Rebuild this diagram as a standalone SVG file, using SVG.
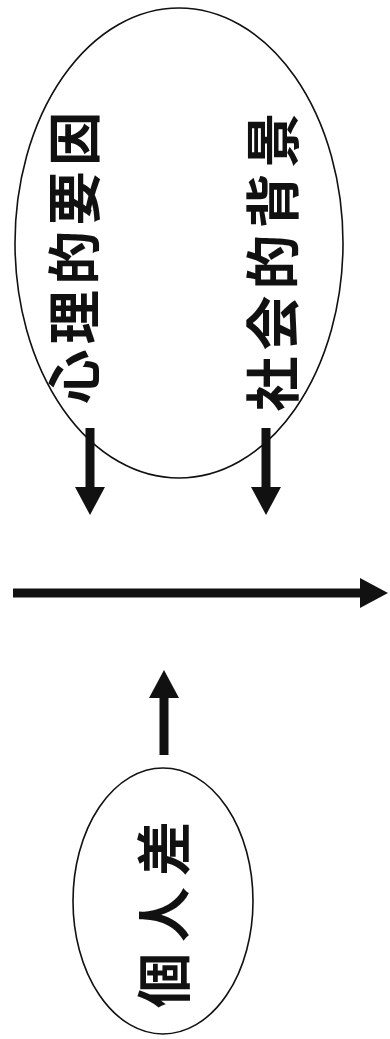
<svg xmlns="http://www.w3.org/2000/svg" width="390" height="1039" viewBox="0 0 390 1039">
  <style>
    .node-shape { fill: none; stroke: #111; stroke-width: 1.6; }
    .label { font-family: "Noto Sans CJK JP", "Noto Sans CJK SC", sans-serif; font-weight: 700; fill: #111; text-anchor: middle; dominant-baseline: central; }
    .conn { stroke: #111; stroke-width: 9; fill: none; }
  </style>
  <defs>
    <marker id="head" markerUnits="userSpaceOnUse" markerWidth="28" markerHeight="30" refX="2" refY="15" orient="auto">
      <path d="M0,0 L28,15 L0,30 z" fill="#111"/>
    </marker>
  </defs>
  <rect width="390" height="1039" fill="#fff"/>

  <g id="factors">
    <ellipse class="node-shape" cx="179" cy="243" rx="164" ry="235"/>
    <text class="label" font-size="54" letter-spacing="5.5" transform="translate(71,255) rotate(-90)">心理的要因</text>
    <text class="label" font-size="55" letter-spacing="6" transform="translate(269,259) rotate(-90)">社会的背景</text>
  </g>

  <g id="individual">
    <ellipse class="node-shape" cx="163" cy="901" rx="90" ry="133"/>
    <text class="label" font-size="55" letter-spacing="11" transform="translate(160,909) rotate(-90)">個人差</text>
  </g>

  <g id="connectors">
    <line class="conn" x1="90" y1="428" x2="90" y2="489" marker-end="url(#head)"/>
    <line class="conn" x1="266" y1="428" x2="266" y2="489" marker-end="url(#head)"/>
    <line class="conn" x1="13" y1="593" x2="362" y2="593" stroke-width="10" marker-end="url(#head)"/>
    <line class="conn" x1="164" y1="755" x2="164" y2="696" marker-end="url(#head)"/>
  </g>
</svg>
